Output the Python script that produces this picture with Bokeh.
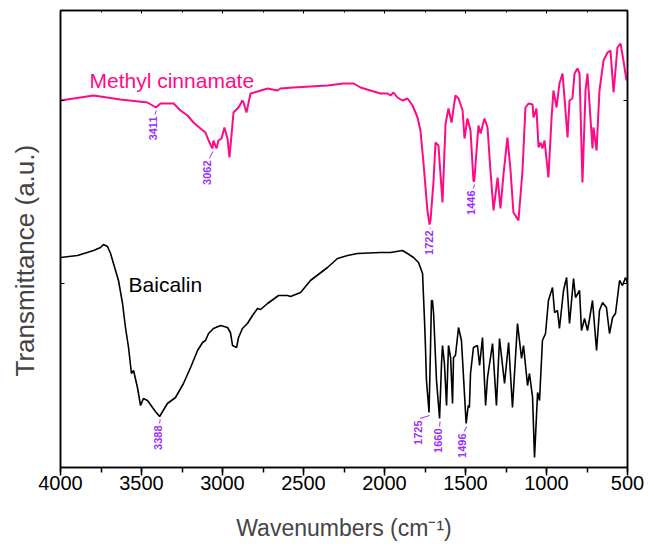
import math
from bokeh.plotting import figure
from bokeh.models import Range1d, LinearAxis, SingleIntervalTicker, FixedTicker, ColumnDataSource
from bokeh.core.properties import value
from bokeh.embed import file_html
from bokeh.resources import INLINE

# ---------------- data ----------------
mc_wavenumber = [4000, 3796, 3630, 3463, 3411, 3383, 3302, 3259, 3216, 3179, 3136, 3105, 3086, 3062,
                 3056, 3037, 3025, 3006, 2988, 2969, 2957, 2938, 2932, 2901, 2877, 2870, 2852, 2840,
                 2827, 2784, 2722, 2660, 2642, 2562, 2352, 2253, 2191, 2148, 2025, 1981, 1963, 1944,
                 1920, 1889, 1858, 1827, 1796, 1778, 1759, 1735, 1722, 1716, 1697, 1685, 1667, 1642,
                 1623, 1605, 1586, 1574, 1562, 1543, 1518, 1506, 1488, 1469, 1451, 1446, 1420, 1407,
                 1383, 1364, 1346, 1327, 1302, 1284, 1265, 1241, 1222, 1204, 1173, 1148, 1130, 1111,
                 1086, 1080, 1062, 1049, 1037, 1025, 1012, 988, 969, 957, 938, 920, 901, 889, 870,
                 858, 840, 827, 809, 796, 778, 759, 747, 716, 710, 691, 673, 648, 623, 605, 586, 562,
                 543, 525, 506]
mc_transmittance = [367, 372, 368, 365, 360, 364, 364, 357, 352, 345, 339, 335, 327, 319,
                    327, 319, 327, 329, 340, 329, 310, 344, 355, 360, 367, 365, 355, 364,
                    374, 376, 379, 377, 379, 380, 382, 384, 384, 380, 374, 374, 372, 375,
                    370, 367, 369, 362, 350, 337, 304, 257, 243, 247, 287, 325, 322, 265,
                    344, 359, 345, 359, 372, 369, 357, 329, 349, 337, 287, 286, 342, 334,
                    349, 340, 297, 257, 290, 259, 294, 330, 297, 255, 247, 297, 360, 364,
                    363, 350, 359, 320, 325, 319, 327, 290, 349, 377, 360, 384, 394, 370, 330,
                    367, 369, 394, 399, 394, 285, 377, 394, 319, 340, 317, 377, 407, 415, 417, 375, 420,
                    424, 407, 387]

ba_wavenumber = [4000, 3895, 3796, 3753, 3735, 3710, 3691, 3673, 3642, 3617, 3599, 3580, 3562, 3549,
                 3525, 3506, 3488, 3463, 3432, 3414, 3388, 3370, 3340, 3290, 3241, 3197, 3154, 3123,
                 3105, 3086, 3056, 3012, 2969, 2951, 2938, 2913, 2901, 2877, 2846, 2815, 2784, 2765,
                 2722, 2654, 2599, 2580, 2518, 2457, 2352, 2290, 2228, 2167, 2025, 1963, 1889, 1858,
                 1821, 1790, 1765, 1759, 1753, 1747, 1741, 1725, 1716, 1710, 1704, 1697, 1679, 1660,
                 1648, 1642, 1630, 1617, 1605, 1592, 1580, 1574, 1562, 1543, 1525, 1496, 1483, 1476,
                 1469, 1451, 1426, 1413, 1395, 1376, 1364, 1333, 1309, 1290, 1259, 1234, 1210, 1179,
                 1154, 1142, 1117, 1105, 1086, 1074, 1055, 1043, 1025, 1006, 988, 963, 950, 932, 920,
                 895, 876, 858, 833, 821, 796, 784, 765, 747, 734, 716, 691, 673, 654, 630, 611, 592,
                 574, 549, 531, 512, 500]
ba_transmittance = [210, 212, 217, 220, 223, 221, 214, 204, 187, 164, 140, 120, 94, 97,
                    80, 62, 69, 67, 60, 56, 51, 56, 64, 70, 84, 100, 117, 125,
                    127, 134, 139, 142, 140, 135, 122, 120, 130, 139, 144, 152, 159, 158,
                    164, 172, 172, 171, 175, 187, 200, 209, 212, 214, 215, 215, 217, 214,
                    210, 205, 194, 170, 147, 120, 87, 55, 120, 167, 167, 154, 87, 49,
                    104, 122, 104, 62, 122, 110, 64, 110, 112, 140, 127, 44, 62, 60,
                    94, 120, 122, 102, 130, 62, 90, 124, 62, 129, 84, 125, 60, 144,
                    109, 122, 82, 94, 70, 10, 75, 67, 127, 134, 167, 180, 155, 157, 139,
                    177, 190, 144, 189, 170, 177, 137, 149, 137, 149, 167, 117, 157, 165, 160, 134, 150,
                    154, 187, 182, 190, 184]

peak_labels = ["3411", "3062", "1722", "1446", "3388", "1725", "1660", "1496"]
peak_wavenumber = [3411, 3062, 1722, 1446, 3388, 1725, 1660, 1496]
peak_transmittance = [360, 319, 243, 286, 51, 55, 49, 44]
label_top = [351, 307, 237, 277, 42, 47, 39, 34]
label_dx_px = [-3, -5, -1, -3, -2, -11, -2, -4]

x_ticks_interval = 500

PINK = "#ff0a85"
PURPLE = "#9b30ff"
FONT = "Liberation Sans"

# ---------------- figure ----------------
p = figure(width=648, height=547, output_backend="svg", toolbar_location=None,
           x_range=Range1d(4000, 500), y_range=Range1d(0, 457),
           min_border_left=60, min_border_right=21, min_border_top=10, min_border_bottom=80)
p.grid.visible = False
p.outline_line_color = "black"
p.outline_line_width = 1.5
p.background_fill_color = "white"
p.border_fill_color = "white"

p.line(mc_wavenumber, mc_transmittance, line_color=PINK, line_width=2)
p.line(ba_wavenumber, ba_transmittance, line_color="black", line_width=1.6)

px_per_w = 567 / 3500.0
lx = [w - d / px_per_w for w, d in zip(peak_wavenumber, label_dx_px)]
src = ColumnDataSource(dict(x=lx, y=label_top, t=peak_labels))
p.text(x="x", y="y", text="t", source=src, angle=math.pi / 2, text_align="right",
       text_baseline="middle", text_font=value(FONT), text_font_size="11px",
       text_font_style="bold", text_color=PURPLE)
x0 = [w - (d + 2) / px_per_w for w, d in zip(peak_wavenumber, label_dx_px)]
y0 = [t + 2 for t in label_top]
x1 = [w - 0.5 / px_per_w for w in peak_wavenumber]
y1 = [v - 3 for v in peak_transmittance]
p.segment(x0=x0, y0=y0, x1=x1, y1=y1, line_color=PURPLE, line_width=1)

p.text(x=[3821], y=[387], text=["Methyl cinnamate"], text_font=value(FONT),
       text_font_size="21px", text_color=PINK, text_baseline="alphabetic")
p.text(x=[3580], y=[183], text=["Baicalin"], text_font=value(FONT),
       text_font_size="21px", text_color="black", text_baseline="alphabetic")

# bottom axis
xa = p.xaxis[0]
xa.ticker = SingleIntervalTicker(interval=x_ticks_interval, num_minor_ticks=2)
xa.axis_line_width = 1.5
xa.major_tick_line_width = 1.5
xa.minor_tick_line_width = 1.5
xa.major_tick_out = 8
xa.major_tick_in = 0
xa.minor_tick_out = 5
xa.minor_tick_in = 0
xa.major_label_text_font = FONT
xa.major_label_text_font_size = "20px"
xa.major_label_text_color = "black"
xa.major_label_standoff = 0
xa.axis_label = "Wavenumbers (cm\u207b\u00b9)"
xa.axis_label_text_font = FONT
xa.axis_label_text_font_size = "23px"
xa.axis_label_text_font_style = "normal"
xa.axis_label_standoff = 22

# left axis
ya = p.yaxis[0]
ya.ticker = FixedTicker(ticks=[184, 367])
ya.axis_line_width = 1.5
ya.major_tick_in = 4
ya.major_tick_out = 0
ya.minor_tick_line_color = None
ya.major_label_text_font_size = "0px"
ya.major_label_text_alpha = 0
ya.major_label_standoff = 0
ya.axis_label = "Transmittance (a.u.)" + "\u00a0" * 6
ya.axis_label_text_font = FONT
ya.axis_label_text_font_size = "26px"
ya.axis_label_text_font_style = "normal"
ya.axis_label_standoff = 21

# top axis
ta = LinearAxis(ticker=SingleIntervalTicker(interval=x_ticks_interval, num_minor_ticks=2),
                major_tick_in=3, major_tick_out=0, minor_tick_in=2, minor_tick_out=0,
                major_label_text_font_size="0px", major_label_text_alpha=0,
                axis_line_width=1.5, major_tick_line_width=1, minor_tick_line_width=1)
p.add_layout(ta, "above")

# right axis
ra = LinearAxis(ticker=FixedTicker(ticks=[184, 367]), major_tick_in=4, major_tick_out=0,
                minor_tick_line_color=None, major_label_text_font_size="0px",
                major_label_text_alpha=0, axis_line_width=1.5)
p.add_layout(ra, "right")

open("out.html", "w").write(file_html(p, INLINE))
